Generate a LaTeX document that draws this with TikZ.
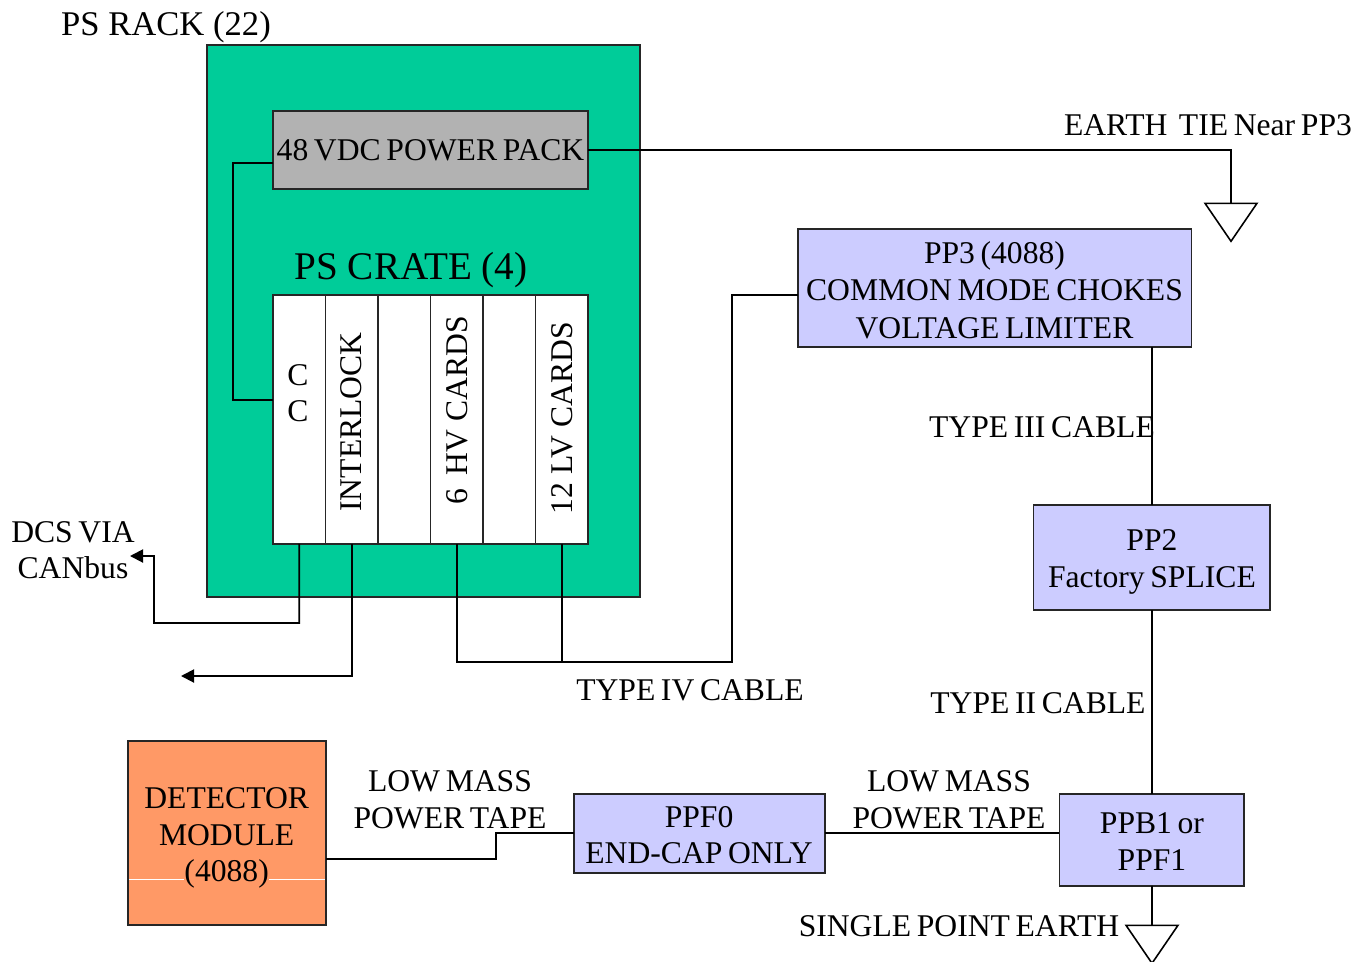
\documentclass[tikz,border=0pt]{standalone}
\usepackage{fontspec}
\setmainfont{Liberation Serif}
\usepackage{xcolor}
\usetikzlibrary{arrows.meta,positioning,shapes.geometric}
\definecolor{rackgreen}{HTML}{00CC99}
\definecolor{packgray}{HTML}{B2B2B2}
\definecolor{boxblue}{HTML}{CCCCFF}
\definecolor{detorange}{HTML}{FF9966}

\begin{document}
\begin{tikzpicture}[
    x=0.02cm,
    y=-0.02cm,
    every node/.style={
        font=\fontsize{18}{20.8}\selectfont,
        execute at begin node={\spaceskip=0.18em\relax},
        outer sep=0pt,
        inner sep=0pt,
        align=center
    },
    box/.style={
        rectangle,
        draw=black!85,
        line width=1.1pt,
        align=center
    },
    slotbox/.style={
        box,
        fill=white,
        minimum width=1.05cm,
        minimum height=4.98cm
    },
    slottext/.style={
        rotate=90,
        execute at begin node={\spaceskip=0pt\relax}
    },
    wire/.style={
        draw=black,
        line width=1.1pt
    },
    arrow/.style={
        wire,
        ->,
        >={Stealth[length=7.4pt,width=7.4pt,inset=0pt]}
    },
    earth/.style={
        isosceles triangle,
        isosceles triangle stretches,
        shape border rotate=-90,
        draw=black,
        line width=0.9pt,
        minimum width=1.04cm,
        minimum height=0.76cm
    }
]
\useasboundingbox (0,0) rectangle (1356,961);

% Rack and crate
\node[box, fill=rackgreen, minimum width=8.66cm, minimum height=11.04cm] (rack) at (423.5,321) {};
\node[box, fill=packgray, minimum width=6.3cm, minimum height=1.56cm, below right=1.32cm and 1.32cm of rack.north west] (pack) {48 VDC POWER PACK};
\node[slotbox, below right=2.12cm and 0cm of pack.south west] (slotcc) {};
\node[slotbox, right=0cm of slotcc] (slotlock) {};
\node[slotbox, right=0cm of slotlock] (slotempty) {};
\node[slotbox, right=0cm of slotempty] (slothv) {};
\node[slotbox, right=0cm of slothv] (slotspare) {};
\node[slotbox, right=0cm of slotspare] (slotlv) {};

% Slot texts
\node (cctext) at (298,393) {C\\C};
\node[slottext] (locktext) at (351,422) {INTERLOCK};
\node[slottext] (hvtext) at (457,410) {6~\,HV CARDS};
\node[slottext] (lvtext) at (562,418) {12 LV CARDS};

% Blue boxes
\node[box, fill=boxblue, minimum width=7.88cm, minimum height=2.36cm] (pp3) at (994.5,288) {\rule{0pt}{15pt}PP3 (4088)\\[0.5pt]COMMON MODE CHOKES\\[0.5pt]VOLTAGE LIMITER};
\node[box, fill=boxblue, minimum width=4.74cm, minimum height=2.1cm, below right=3.16cm and -3.16cm of pp3.south east] (pp2) {\rule{0pt}{17pt}PP2\\Factory SPLICE};
\node[box, fill=boxblue, minimum width=3.7cm, minimum height=1.84cm, below=3.68cm of pp2] (ppb) {\rule{0pt}{14pt}PPB1 or\\PPF1};
\node[box, fill=boxblue, minimum width=5.02cm, minimum height=1.58cm, below left=0cm and 4.7cm of ppb.north west] (ppf0) {\rule{0pt}{14pt}PPF0\\END-CAP ONLY};
\node[box, fill=detorange, minimum width=3.96cm, minimum height=3.68cm, below left=-1.06cm and 4.96cm of ppf0.north west] (det) {\rule{0pt}{18pt}DETECTOR\\MODULE\\(4088)};

% Earth symbols
\node[earth] (tieearth) at (1231,217) {};
\node[earth] (spearth) at (1152,939) {};

% Free labels
\node[font=\fontsize{19.7}{24}\selectfont, execute at begin node={\spaceskip=0pt\relax}] (racktext) at (166,27) {PS RACK (22)};
\node[font=\fontsize{22.3}{26}\selectfont, execute at begin node={\spaceskip=0pt\relax}] (cratetext) at (411,270) {PS CRATE (4)};
\node (tietext) at (1208,125) {EARTH~~TIE Near PP3};
\node (dcstext) at (73,550) {DCS VIA\\CANbus};
\node (type3text) at (1042,427) {TYPE III CABLE};
\node (type4text) at (690,690) {TYPE IV CABLE};
\node (type2text) at (1038,703) {TYPE II CABLE};
\node (tapeone) at (450,800) {LOW MASS\\POWER TAPE};
\node (tapetwo) at (949,800) {LOW MASS\\POWER TAPE};
\node (sptext) at (959,926) {SINGLE POINT EARTH};

% Bend points
\coordinate (packout) at (273,163);
\coordinate (ccin) at (273,400);
\coordinate (ccbend) at (233,400);
\coordinate (dcsend) at (130,556);
\coordinate (lockend) at (181,676);
\coordinate (hvbend) at (slothv.south |- 0,662);
\coordinate (cablebend) at (732,662);
\coordinate (pp3in) at (798,295);
\coordinate (detout) at (326,859);
\coordinate (tapebend) at (496,859);

% Wires
\draw[wire] (packout) -- (packout -| ccbend) -- (ccbend) -- (ccin);
\draw[wire] (pack.east) -- (pack.east -| tieearth.north) -- (tieearth.north);
\draw[arrow] (slotcc.south) -- ++(0,79) -- (154,623) -- (154,556) -- (dcsend);
\draw[arrow] (slotlock.south) -- (slotlock.south |- lockend) -- (lockend);
\draw[wire] (slothv.south) -- (hvbend) -- (cablebend) -- (cablebend |- pp3in) -- (pp3in);
\draw[wire] (slotlv.south) -- (slotlv.south |- hvbend);
\draw[wire] (pp2.north |- pp3.south) -- (pp2.north);
\draw[wire] (pp2.south) -- (ppb.north);
\draw[wire] (ppb.south) -- (spearth.north);
\draw[wire] (ppf0.east) -- (ppf0.east -| ppb.west);
\draw[wire] (detout) -- (tapebend) -- (tapebend |- ppf0.west) -- (ppf0.west);
\draw[white, line width=0.4pt] (129,879) -- (184,879) (269,879) -- (325,879);

\end{tikzpicture}
\end{document}
